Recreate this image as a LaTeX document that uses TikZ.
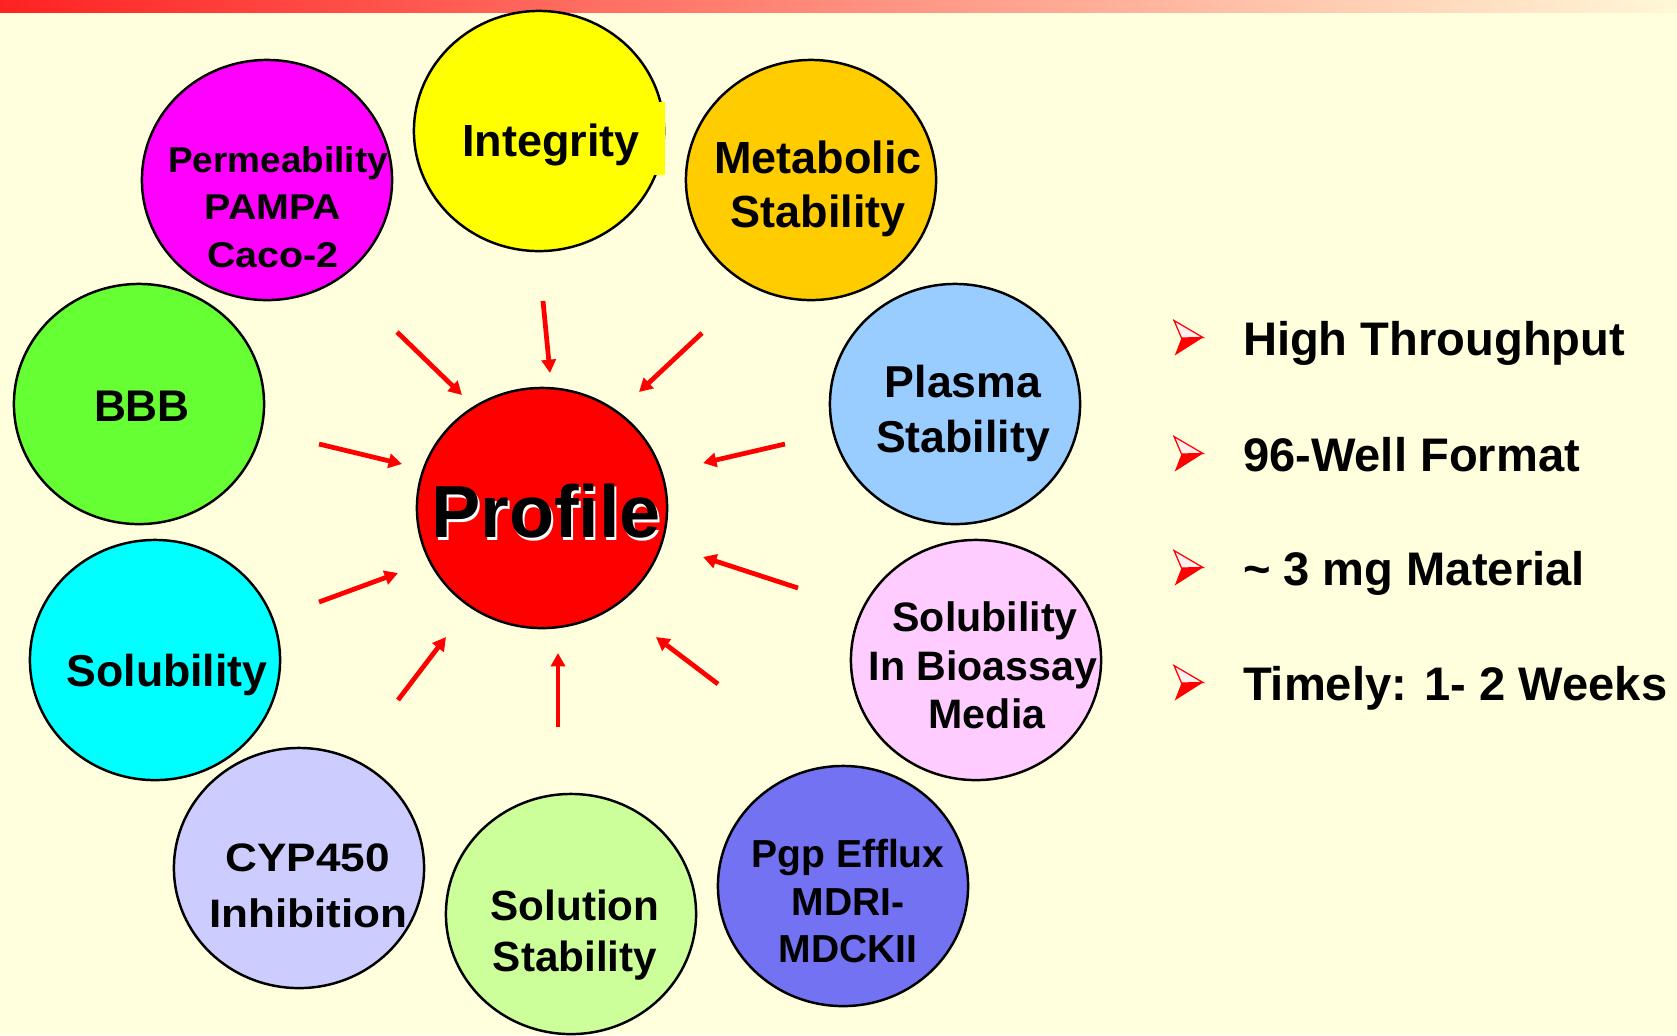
\documentclass[tikz,border=0pt]{standalone}
\usepackage{fontspec}
\setmainfont{Liberation Sans}
\usepackage{graphicx}
\usetikzlibrary{shapes.geometric,arrows.meta}
\definecolor{bgc}{RGB}{255,255,221}
\definecolor{barL}{RGB}{255,34,34}
\definecolor{barM}{RGB}{255,160,128}
\definecolor{barR}{RGB}{255,248,215}
\definecolor{cMag}{RGB}{255,0,255}
\definecolor{cYel}{RGB}{255,255,0}
\definecolor{cOra}{RGB}{255,204,0}
\definecolor{cGre}{RGB}{102,255,51}
\definecolor{cBlu}{RGB}{153,204,255}
\definecolor{cRed}{RGB}{255,0,0}
\definecolor{cCya}{RGB}{0,255,255}
\definecolor{cPin}{RGB}{255,204,255}
\definecolor{cLav}{RGB}{204,204,255}
\definecolor{cLgr}{RGB}{204,255,153}
\definecolor{cPgp}{RGB}{114,114,242}
\definecolor{arrowred}{RGB}{255,0,0}
\newcommand{\fsz}[1]{\fontsize{#1pt}{#1pt}\selectfont\bfseries}
\begin{document}
\begin{tikzpicture}[x=0.01cm,y=-0.01cm,
  disc/.style={ellipse, draw=black, line width=0.7pt, minimum width=2.5cm, minimum height=2.4cm, inner sep=0pt},
  lbl/.style={inner sep=0pt, outer sep=0pt, anchor=base, text=black},
  arr/.style={draw=arrowred, line width=1.35pt, -{Triangle[length=3.8pt,width=4pt]}},
  arrbullet/.pic={
    \path[fill=red!6, draw=red, line width=0.35pt, line join=miter] (0,-34.5) -- (29,-17.5) -- (7.5,-17) -- cycle;
    \fill[red] (7.5,-17) -- (29,-17.5) -- (0.7,0.5) -- cycle;
  }
]
\useasboundingbox (0,0) rectangle (1677,1035);
\clip (0,0) rectangle (1677,1035);
\fill[bgc] (0,0) rectangle (1677,1035);
\shade[left color=barL, middle color=barM, right color=barR] (0,0) rectangle (1677,12);

% circles
\node[disc, fill=cMag] (perm) at (267,180) {};
\node[disc, fill=cYel] (integ) at (539,131) {};
\fill[cYel] (560,102) rectangle (665,175);
\node[disc, fill=cOra] (metab) at (811,180) {};
\node[disc, fill=cGre] (bbb) at (139,404) {};
\node[disc, fill=cBlu] (plasma) at (955,404) {};
\node[disc, fill=cRed] (profile) at (542,508) {};
\node[disc, fill=cCya] (solub) at (155,660) {};
\node[disc, fill=cPin] (bioassay) at (976,660) {};
\node[disc, fill=cLav] (cyp) at (299,868) {};
\node[disc, fill=cLgr] (soln) at (571,914) {};
\node[disc, fill=cPgp] (pgp) at (843,886) {};

% labels
\node[lbl, font=\fsz{10.2}] (perm-a) at (278,172) {\scalebox{1.03}[1]{Permeability}};
\node[lbl, font=\fsz{10.2}] (perm-b) at (273,219) {\scalebox{1.1}[1]{PAMPA}};
\node[lbl, font=\fsz{10.2}] (perm-c) at (273,267) {\scalebox{1.1}[1]{Caco-2}};
\node[lbl, font=\fsz{12.8}] (integ-a) at (551,156) {Integrity};
\node[lbl, font=\fsz{12.8}] (metab-a) at (818,173) {Metabolic};
\node[lbl, font=\fsz{12.8}] (metab-b) at (818,227) {Stability};
\node[lbl, font=\fsz{12.6}] (bbb-a) at (142,421) {BBB};
\node[lbl, font=\fsz{12.7}] (plasma-a) at (963,397) {Plasma};
\node[lbl, font=\fsz{12.7}] (plasma-b) at (963,452) {Stability};
\node[lbl, font=\fsz{21}, text=white] (profile-s) at (548,540.5) {Profile};
\node[lbl, font=\fsz{21}] (profile-a) at (546,537) {Profile};
\node[lbl, font=\fsz{12.7}] (solub-a) at (167,686) {Solubility};
\node[lbl, font=\fsz{11.7}] (bio-a) at (985,631) {Solubility};
\node[lbl, font=\fsz{11.7}] (bio-b) at (983,680) {In Bioassay};
\node[lbl, font=\fsz{11.7}] (bio-c) at (987,728) {Media};
\node[lbl, font=\fsz{11.3}] (cyp-a) at (307.5,871) {\scalebox{1.11}[1]{CYP450}};
\node[lbl, font=\fsz{11.3}] (cyp-b) at (308.5,927) {\scalebox{1.11}[1]{Inhibition}};
\node[lbl, font=\fsz{12}] (soln-a) at (575,920) {Solution};
\node[lbl, font=\fsz{12}] (soln-b) at (575,971) {Stability};
\node[lbl, font=\fsz{11.1}] (pgp-a) at (848,867) {Pgp Efflux};
\node[lbl, font=\fsz{11.1}] (pgp-b) at (848,915) {MDRI-};
\node[lbl, font=\fsz{11.1}] (pgp-c) at (848,962) {MDCKII};

% arrow coordinates
\coordinate (s1) at (397,332);  \coordinate (e1) at (462,395);
\coordinate (s2) at (543,301);  \coordinate (e2) at (550,373);
\coordinate (s3) at (702,333);  \coordinate (e3) at (639,392);
\coordinate (s4) at (319,444);  \coordinate (e4) at (402,464);
\coordinate (s5) at (785,444);  \coordinate (e5) at (703,463);
\coordinate (s6) at (319,602);  \coordinate (e6) at (398,573);
\coordinate (s7) at (798,588);  \coordinate (e7) at (703,557);
\coordinate (s8) at (398,700);  \coordinate (e8) at (446,637);
\coordinate (s9) at (558,727);  \coordinate (e9) at (558,653);
\coordinate (s10) at (718,684); \coordinate (e10) at (656,637);
\foreach \i in {1,...,10} {\draw[arr] (s\i) -- (e\i);}

% bullet list
\pic at (1174,355) {arrbullet};
\pic at (1174,471) {arrbullet};
\pic at (1174,585) {arrbullet};
\pic at (1174,700) {arrbullet};
\node[lbl, anchor=base west, font=\fsz{13.4}] (b1) at (1243,355) {High Throughput};
\node[lbl, anchor=base west, font=\fsz{13.4}] (b2) at (1243,471) {96-Well Format};
\node[lbl, anchor=base west, font=\fsz{13.4}] (b3) at (1243,585) {\textasciitilde{} 3 mg Material};
\node[lbl, anchor=base west, font=\fsz{13.4}] (b4) at (1243,700) {Timely: 1- 2 Weeks};
\end{tikzpicture}
\end{document}
